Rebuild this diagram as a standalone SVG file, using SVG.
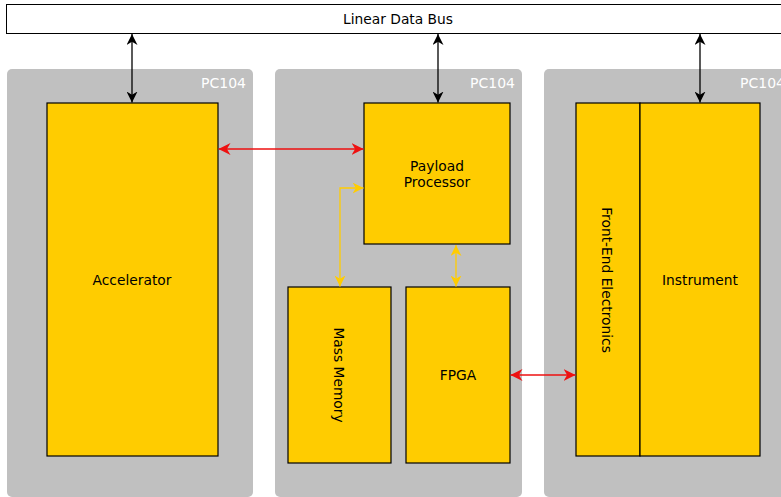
<svg xmlns="http://www.w3.org/2000/svg" width="781" height="497" viewBox="0 0 781 497">
<style>
text{font-family:"DejaVu Sans",sans-serif;font-size:13.8px;fill:#000}
.pc{fill:#c0c0c0}
.pcl{fill:#fff;font-size:14px;text-anchor:end}
.box{fill:#ffcc00;stroke:#000;stroke-width:1.2}
.c{text-anchor:middle;dominant-baseline:central}
.bk{stroke:#000;stroke-width:1.3;fill:none}
.rd{stroke:#ee1111;stroke-width:1.3;fill:none}
.yl{stroke:#ffcc00;stroke-width:1.3;fill:none}
</style>
<defs>
<marker id="ab" viewBox="0 0 10 10" refX="10" refY="5" markerWidth="11" markerHeight="11" markerUnits="userSpaceOnUse" orient="auto-start-reverse"><path d="M0,0 L10,5 L0,10 L3,5 z" fill="#000"/></marker>
<marker id="ar" viewBox="0 0 10 10" refX="10" refY="5" markerWidth="12" markerHeight="12" markerUnits="userSpaceOnUse" orient="auto-start-reverse"><path d="M0,0 L10,5 L0,10 L3,5 z" fill="#ee1111"/></marker>
<marker id="ay" viewBox="0 0 10 10" refX="10" refY="5" markerWidth="11" markerHeight="11" markerUnits="userSpaceOnUse" orient="auto-start-reverse"><path d="M0,0 L10,5 L0,10 L3,5 z" fill="#ffcc00"/></marker>
</defs>
<g id="bus">
<rect x="6.5" y="4.5" width="790" height="29" fill="#fff" stroke="#000" stroke-width="1"/>
<text x="398" y="19" class="c">Linear Data Bus</text>
</g>
<g id="pc1"><rect class="pc" x="7" y="69" width="246" height="428" rx="5"/><text class="pcl" x="246" y="88">PC104</text></g>
<g id="pc2"><rect class="pc" x="275" y="69" width="247" height="428" rx="5"/><text class="pcl" x="515" y="88">PC104</text></g>
<g id="pc3"><rect class="pc" x="544" y="69" width="260" height="428" rx="5"/><text class="pcl" x="785" y="88">PC104</text></g>
<g id="accelerator"><rect class="box" x="47" y="103" width="171" height="353"/><text class="c" x="132" y="280">Accelerator</text></g>
<g id="payload"><rect class="box" x="364" y="103" width="146" height="141"/><text class="c" x="437" y="166">Payload</text><text class="c" x="437" y="182">Processor</text></g>
<g id="massmem"><rect class="box" x="288" y="287" width="103" height="176"/><text class="c" transform="translate(339,375) rotate(90)">Mass Memory</text></g>
<g id="fpga"><rect class="box" x="406" y="287" width="104" height="176"/><text class="c" x="458" y="375">FPGA</text></g>
<g id="fee"><rect class="box" x="576" y="103" width="64" height="353"/><text class="c" transform="translate(607,280) rotate(90)">Front-End Electronics</text></g>
<g id="instrument"><rect class="box" x="640" y="103" width="120" height="353"/><text class="c" x="700" y="280">Instrument</text></g>
<g id="connectors">
<line class="bk" x1="132" y1="34" x2="132" y2="102.5" marker-start="url(#ab)" marker-end="url(#ab)"/>
<line class="bk" x1="438" y1="34" x2="438" y2="102.5" marker-start="url(#ab)" marker-end="url(#ab)"/>
<line class="bk" x1="700" y1="34" x2="700" y2="102.5" marker-start="url(#ab)" marker-end="url(#ab)"/>
<line class="rd" x1="218.5" y1="149" x2="363.5" y2="149" marker-start="url(#ar)" marker-end="url(#ar)"/>
<line class="rd" x1="510.5" y1="375" x2="575.5" y2="375" marker-start="url(#ar)" marker-end="url(#ar)"/>
<path class="yl" d="M340,286.5 L340,188 L363.5,188" marker-start="url(#ay)" marker-end="url(#ay)"/>
<line class="yl" x1="456" y1="245" x2="456" y2="286.5" marker-start="url(#ay)" marker-end="url(#ay)"/>
</g>
</svg>
